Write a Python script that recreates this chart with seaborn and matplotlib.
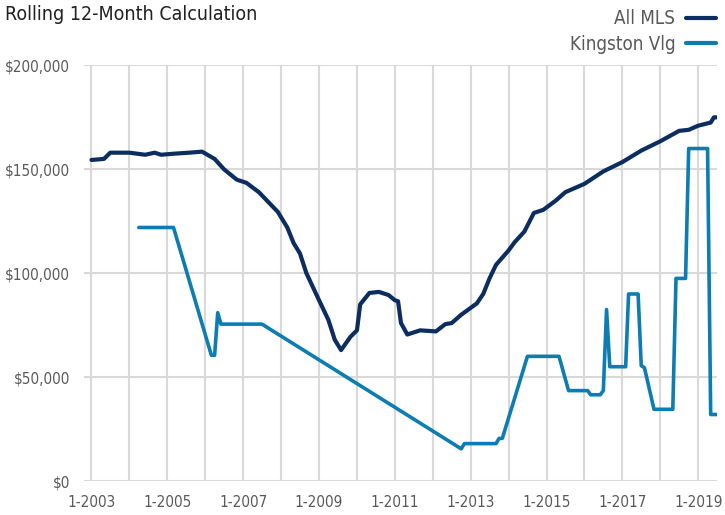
import pandas as pd
import matplotlib
matplotlib.use("Agg")
import matplotlib.pyplot as plt
import matplotlib.dates as mdates
from matplotlib.ticker import FuncFormatter
import seaborn as sns

# All MLS rolling 12-month values
mls_months = [
    "2003-01", "2003-05", "2003-07", "2004-01", "2004-06", "2004-09", "2004-11",
    "2005-03", "2005-08", "2005-12", "2006-04", "2006-07", "2006-11", "2007-02",
    "2007-06", "2007-12", "2008-03", "2008-05", "2008-07", "2008-09", "2009-01",
    "2009-04", "2009-06", "2009-08", "2009-11", "2010-01", "2010-02", "2010-05",
    "2010-08", "2010-11", "2011-01", "2011-02", "2011-03", "2011-05", "2011-09",
    "2012-02", "2012-05", "2012-07", "2012-10", "2013-03", "2013-05", "2013-07",
    "2013-09", "2014-01", "2014-03", "2014-06", "2014-09", "2014-12", "2015-04",
    "2015-07", "2016-01", "2016-07", "2017-01", "2017-07", "2018-01", "2018-07",
    "2018-10", "2019-01", "2019-05", "2019-06", "2019-07",
]
mls_values = [
    154500, 155000, 158000, 158000, 157000, 158000, 157000,
    157500, 158000, 158500, 155000, 150000, 145000, 143500,
    139000, 129500, 122000, 114500, 109500, 100000, 87000,
    77500, 68000, 63000, 69500, 72500, 85000, 90500,
    91000, 89500, 87000, 86500, 76000, 70500, 72500,
    72000, 75500, 76000, 80000, 85500, 90000, 97500,
    104000, 111000, 115000, 120000, 129000, 130500, 135000,
    139000, 143000, 149000, 153500, 159000, 163500, 168500,
    169000, 171000, 172500, 175000, 175000,
]

# Kingston Vlg rolling 12-month values
kv_months = [
    "2004-04", "2005-03", "2006-03", "2006-04", "2006-05", "2006-06", "2007-07",
    "2012-10", "2012-11", "2013-09", "2013-10", "2013-11", "2014-07", "2015-05",
    "2015-08", "2016-02", "2016-03", "2016-06", "2016-07", "2016-08", "2016-09",
    "2017-02", "2017-03", "2017-06", "2017-07", "2017-08", "2017-11", "2018-05",
    "2018-06", "2018-09", "2018-10", "2019-04", "2019-05", "2019-07",
]
kv_values = [
    122000, 122000, 60500, 60500, 81000, 75500, 75500,
    15500, 18000, 18000, 20500, 20500, 60000, 60000,
    43500, 43500, 41500, 41500, 43500, 82500, 55000,
    55000, 90000, 90000, 55500, 54500, 34500, 34500,
    97500, 97500, 160000, 160000, 32000, 32000,
]

series_names = ["All MLS", "Kingston Vlg"]
series_colors = ["#0c2d5f", "#0b7db2"]
y_ticks = [0, 50000, 100000, 150000, 200000]

df = pd.concat([
    pd.DataFrame({"date": pd.to_datetime(mls_months), "value": mls_values, "series": series_names[0]}),
    pd.DataFrame({"date": pd.to_datetime(kv_months), "value": kv_values, "series": series_names[1]}),
], ignore_index=True)

sns.set_style("white")
# condensed face, close to the narrow font of the original
plt.rcParams["font.family"] = ["DejaVu Sans"]
plt.rcParams["font.stretch"] = "condensed"

fig = plt.figure(figsize=(7.25, 5.15), dpi=100)
ax = fig.add_axes([0.116, 0.066, 0.873, 0.807])

sns.lineplot(data=df, x="date", y="value", hue="series", hue_order=series_names,
             palette=series_colors, linewidth=2.8, ax=ax, legend=False)
for line, lw in zip(ax.get_lines(), [3.0, 2.6]):
    line.set_linewidth(lw)
    line.set_solid_joinstyle("round")

ax.set_xlim(pd.Timestamp("2002-10-22"), pd.Timestamp("2019-07-01"))
ax.set_ylim(0, 200000)
ax.set_yticks(y_ticks)
ax.yaxis.set_major_formatter(FuncFormatter(lambda v, p: "$0" if v == 0 else f"${v:,.0f}"))
ax.xaxis.set_major_locator(mdates.YearLocator(1))
ax.xaxis.set_major_formatter(FuncFormatter(
    lambda v, p: f"1-{mdates.num2date(v).year}" if mdates.num2date(v).year % 2 == 1 else ""))

ax.grid(True, color="#d9d9d9", linewidth=1.5)
ax.set_axisbelow(True)
for s in ax.spines.values():
    s.set_visible(False)
ax.tick_params(axis="x", length=4, width=1.5, color="#d9d9d9", pad=6, labelsize=11, labelcolor="#595959")
ax.tick_params(axis="y", length=0, pad=10, labelsize=11, labelcolor="#595959")
ax.set_xlabel("")
ax.set_ylabel("")

fig.text(0.007, 0.962, "Rolling 12-Month Calculation", fontsize=14, color="#222222", va="baseline")

handles = [plt.Line2D([], [], color=c, linewidth=3) for c in series_colors]
fig.legend(handles, series_names, loc="upper right", bbox_to_anchor=(1.0, 1.0),
           frameon=False, markerfirst=False, fontsize=13.5, labelcolor="#595959",
           handlelength=1.6, handletextpad=0.55, labelspacing=0.35, borderaxespad=0.1)

fig.savefig("out.png", dpi=100)
